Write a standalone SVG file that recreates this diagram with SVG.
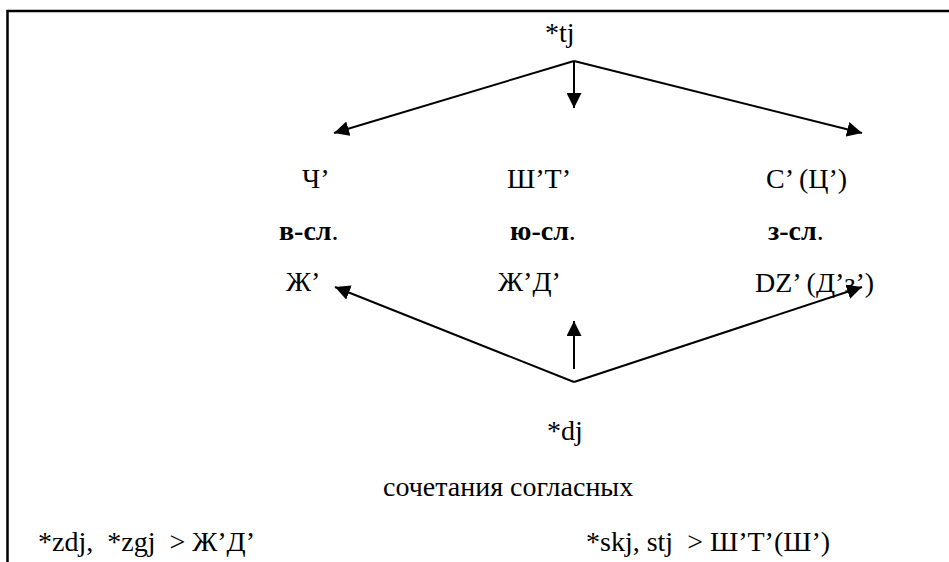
<svg xmlns="http://www.w3.org/2000/svg" width="949" height="562" viewBox="0 0 949 562">
<style>
text{font-family:"Liberation Serif","Times New Roman",serif;font-size:28px;fill:#000}
.b{font-weight:bold}
.c{stroke:#000;stroke-width:2;fill:none}
</style>
<defs>
<marker id="ah" viewBox="0 0 10 10" refX="10" refY="5" markerWidth="15" markerHeight="15" markerUnits="userSpaceOnUse" orient="auto">
<path d="M0,0 L10,5 L0,10 z" fill="#000"/>
</marker>
</defs>
<rect width="949" height="562" fill="#fff"/>
<g id="frame">
<path d="M7.5,562 V11 H949" stroke="#000" stroke-width="2.5" fill="none"/>
</g>
<g id="connectors">
<path class="c" d="M574,61 L334,133" marker-end="url(#ah)"/>
<path class="c" d="M574,61 L574,108" marker-end="url(#ah)"/>
<path class="c" d="M574,61 L862,133" marker-end="url(#ah)"/>
<path class="c" d="M574,382 L335,287" marker-end="url(#ah)"/>
<path class="c" d="M574,369 L574,321" marker-end="url(#ah)"/>
<path class="c" d="M574,382 L862,287" marker-end="url(#ah)"/>
</g>
<g id="n-tj"><text x="545" y="42">*tj</text></g>
<g id="n-ch"><text x="302" y="188">Ч’</text></g>
<g id="n-sht"><text x="507" y="188">Ш’Т’</text></g>
<g id="n-s"><text x="766" y="188">С’ (Ц’)</text></g>
<g id="n-vsl"><text x="279" y="240"><tspan class="b">в-сл</tspan>.</text></g>
<g id="n-yusl"><text x="510" y="240"><tspan class="b">ю-сл</tspan>.</text></g>
<g id="n-zsl"><text x="768" y="240"><tspan class="b">з-сл</tspan>.</text></g>
<g id="n-zh"><text x="286" y="291">Ж’</text></g>
<g id="n-zhd"><text x="498" y="291">Ж’Д’</text></g>
<g id="n-dz"><text x="755" y="292">DZ’ (Д’з’)</text></g>
<g id="n-dj"><text x="547" y="440">*dj</text></g>
<g id="n-soch"><text x="383" y="496">сочетания согласных</text></g>
<g id="n-zdj"><text x="38" y="551" xml:space="preserve">*zdj,  *zgj  &gt; Ж’Д’</text></g>
<g id="n-skj"><text x="586" y="551" xml:space="preserve">*skj, stj  &gt; Ш’Т’(Ш’)</text></g>
</svg>
